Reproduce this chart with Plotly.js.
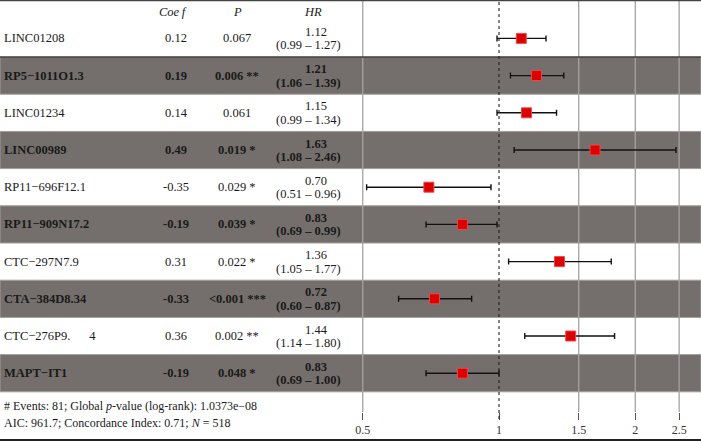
<!DOCTYPE html>
<html>
<head>
<meta charset="utf-8">
<script src="https://cdn.plot.ly/plotly-3.0.1.min.js"></script>
<style>
html,body{margin:0;padding:0;background:#fff;}
#chart{width:701px;height:441px;}
</style>
</head>
<body>
<div id="chart"></div>
<script>
// ---- data ----
var genes = ["LINC01208","RP5\u22121011O1.3","LINC01234","LINC00989","RP11\u2212696F12.1","RP11\u2212909N17.2","CTC\u2212297N7.9","CTA\u2212384D8.34","CTC\u2212276P9.\u00a0\u00a0\u00a0\u00a0\u00a0\u00a04","MAPT\u2212IT1"];
var coefs = ["0.12","0.19","0.14","0.49","-0.35","-0.19","0.31","-0.33","0.36","-0.19"];
var pvals = ["0.067","0.006","0.061","0.019","0.029","0.039","0.022","&lt;0.001","0.002","0.048"];
var stars = ["","**","","*","*","*","*","***","**","*"];
var hr    = [1.12,1.21,1.15,1.63,0.70,0.83,1.36,0.72,1.44,0.83];
var lower = [0.99,1.06,0.99,1.08,0.51,0.69,1.05,0.60,1.14,0.69];
var upper = [1.27,1.39,1.34,2.46,0.96,0.99,1.77,0.87,1.80,1.00];
var tickVals = [0.5,1,1.5,2,2.5];
var tickText = ["0.5","1","1.5","2","2.5"];
var gridVals = [0.5,1.5,2,2.5];
var refValue = 1;
var foot1 = "# Events: 81; Global <i>p</i>-value (log-rank): 1.0373e\u221208";
var foot2 = "AIC: 961.7; Concordance Index: 0.71; <i>N</i> = 518";

// ---- layout helpers ----
var W = 701, PH = 412;
var FONT = "Liberation Serif, Times New Roman, serif";
function fmt(v){ return v.toFixed(2); }
function b(s, bold){ return bold ? "<b>" + s + "</b>" : s; }

var shapes = [];
var annotations = [];
genes.forEach(function(g, i){
  var bold = (i % 2 === 1);
  if (bold) {
    shapes.push({type:"rect", layer:"below", xref:"paper", yref:"y", x0:0, x1:1, y0:i-0.5, y1:i+0.5,
      fillcolor:"#746f6c", line:{color:"#a29e9b", width:1}});
  }
  var f = {family:FONT, size:12.5, color:"#1a1a1a"};
  annotations.push({xref:"paper", yref:"y", x:2/W, y:g, xanchor:"left", yanchor:"middle", showarrow:false, text:b(g,bold), font:f});
  annotations.push({xref:"paper", yref:"y", x:176/W, y:g, xanchor:"center", yanchor:"middle", showarrow:false, text:b(coefs[i],bold), font:f});
  annotations.push({xref:"paper", yref:"y", x:237/W, y:g, xanchor:"center", yanchor:"middle", showarrow:false, text:b(pvals[i] + (stars[i] ? " " + stars[i] : ""),bold), font:f});
  annotations.push({xref:"paper", yref:"y", x:316/W, y:g, xanchor:"center", yanchor:"middle", yshift:6.5, showarrow:false, text:b(fmt(hr[i]),bold), font:f});
  annotations.push({xref:"paper", yref:"y", x:308/W, y:g, xanchor:"center", yanchor:"middle", yshift:-7, showarrow:false, text:b("(" + fmt(lower[i]) + " \u2013 " + fmt(upper[i]) + ")",bold), font:f});
});
// vertical grid lines (drawn above the row bands, below the data)
gridVals.forEach(function(v){
  shapes.push({type:"line", layer:"below", xref:"x", yref:"paper", x0:v, x1:v, y0:0, y1:1, line:{color:"#a3a3a3", width:1.3}});
});
// separator under the first row
shapes.push({type:"line", layer:"above", xref:"paper", yref:"y", x0:0, x1:1, y0:0.5, y1:0.5, line:{color:"#111", width:1.2}});
// reference line at HR = 1
shapes.push({type:"line", layer:"above", xref:"x", yref:"paper", x0:refValue, x1:refValue, y0:-7/PH, y1:1, line:{color:"#222", width:1.1, dash:"dot"}});
// outer top/bottom frame lines
shapes.push({type:"line", layer:"above", xref:"paper", yref:"paper", x0:0, x1:1, y0:1, y1:1, line:{color:"#444", width:2.5}});
shapes.push({type:"line", layer:"above", xref:"paper", yref:"paper", x0:0, x1:1, y0:(PH-440)/PH, y1:(PH-440)/PH, line:{color:"#222", width:2}});

// headers
var hf = {family:FONT, size:12.5, color:"#1a1a1a"};
annotations.push({xref:"paper", yref:"paper", x:173/W, y:1-12/PH, xanchor:"center", yanchor:"middle", showarrow:false, text:"<i>Coe\u2009f</i>", font:hf});
annotations.push({xref:"paper", yref:"paper", x:237/W, y:1-12/PH, xanchor:"center", yanchor:"middle", showarrow:false, text:"<i>P</i>", font:hf});
annotations.push({xref:"paper", yref:"paper", x:313/W, y:1-12/PH, xanchor:"center", yanchor:"middle", showarrow:false, text:"<i>HR</i>", font:hf});
// footnotes
var ff = {family:FONT, size:12, color:"#1a1a1a"};
annotations.push({xref:"paper", yref:"paper", x:2/W, y:1-406/PH, xanchor:"left", yanchor:"middle", showarrow:false, text:foot1, font:ff});
annotations.push({xref:"paper", yref:"paper", x:2/W, y:1-423/PH, xanchor:"left", yanchor:"middle", showarrow:false, text:foot2, font:ff});

var errPlus = upper.map(function(u,i){ return u - hr[i]; });
var errMinus = lower.map(function(l,i){ return hr[i] - l; });

var trace = {
  type:"scatter", mode:"markers", x:hr, y:genes,
  marker:{symbol:"square", size:10, color:"#dc0000", line:{color:"#ea4a4a", width:1}},
  error_x:{type:"data", symmetric:false, array:errPlus, arrayminus:errMinus, color:"#111", thickness:1.4, width:3},
  hoverinfo:"skip", showlegend:false
};

var xr = [Math.log10(0.0790), Math.log10(2.794)];
var tf = {family:FONT, size:12, color:"#333"};
var layout = {
  width:W, height:441,
  margin:{l:0, r:0, t:0, b:441-PH, pad:0},
  paper_bgcolor:"#fff", plot_bgcolor:"rgba(0,0,0,0)",
  xaxis:{type:"log", range:xr, tickvals:tickVals, ticktext:tickText, showgrid:false,
    zeroline:false, showline:false, ticks:"outside", ticklen:7, tickwidth:1, tickcolor:"#555", tickfont:tf},
  yaxis:{type:"category", categoryorder:"array", categoryarray:genes, range:[(PH-38.4)/37.2, -38.4/37.2], autorange:false,
    showticklabels:false, showgrid:false, zeroline:false, ticks:""},
  shapes:shapes, annotations:annotations
};
Plotly.newPlot("chart", [trace], layout, {displayModeBar:false, staticPlot:true});
</script>
</body>
</html>
